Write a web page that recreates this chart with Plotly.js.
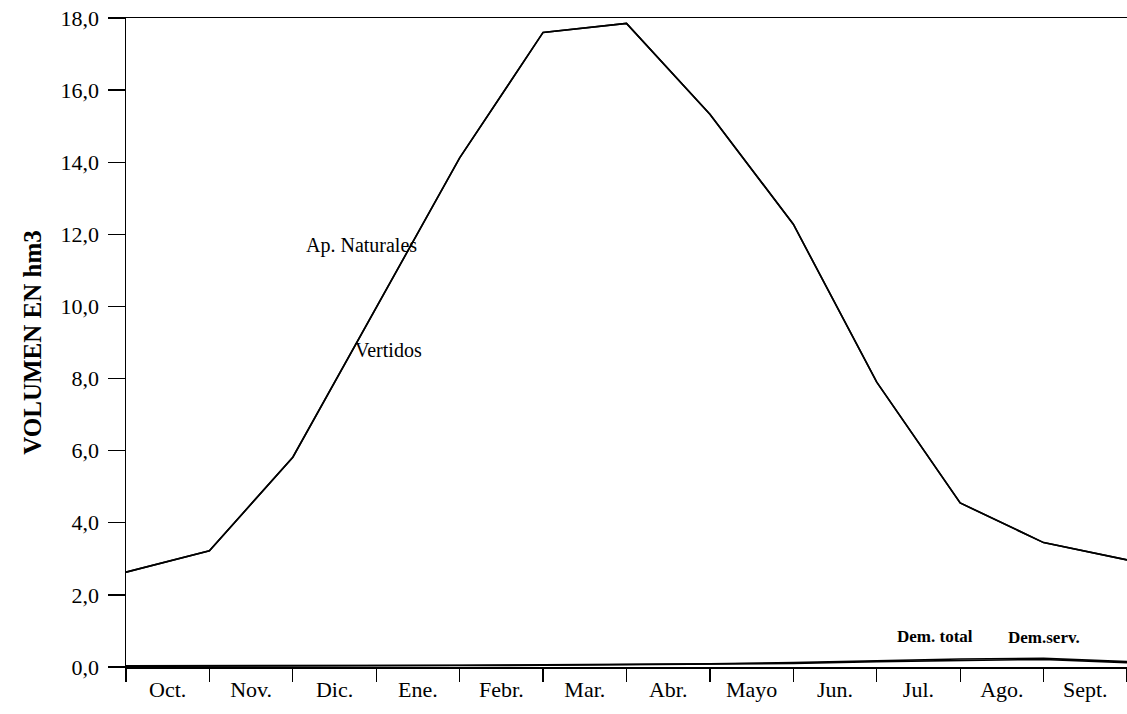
<!DOCTYPE html>
<html>
<head>
<meta charset="utf-8">
<script src="https://cdn.plot.ly/plotly-3.0.1.min.js"></script>
<style>html,body{margin:0;padding:0;background:#fff;}#chart{width:1127px;height:714px;}</style>
</head>
<body>
<div id="chart"></div>
<script>
// Month labels (each month is the interval between two ticks)
const months = ["Oct.", "Nov.", "Dic.", "Ene.", "Febr.", "Mar.", "Abr.", "Mayo", "Jun.", "Jul.", "Ago.", "Sept."];
// Values at month boundaries (start of Oct. ... end of Sept.), hm3
const apNaturales = [2.63, 3.22, 5.82, 9.95, 14.12, 17.6, 17.85, 15.33, 12.28, 7.9, 4.55, 3.45, 2.97];
const vertidos    = [2.63, 3.22, 5.82, 9.95, 14.12, 17.6, 17.85, 15.33, 12.28, 7.9, 4.55, 3.45, 2.97];
const demTotal    = [0.03, 0.03, 0.04, 0.05, 0.05, 0.06, 0.07, 0.09, 0.12, 0.18, 0.22, 0.24, 0.15];
const demServ     = [0.02, 0.02, 0.03, 0.04, 0.04, 0.05, 0.06, 0.07, 0.10, 0.15, 0.19, 0.21, 0.12];
const yTicks = [0, 2, 4, 6, 8, 10, 12, 14, 16, 18];

const boundaries = apNaturales.map((_, i) => i);
const monthCenters = months.map((_, i) => i + 0.5);

const font = "Liberation Serif, Times New Roman, serif";
const lineStyle = {color: "#000", width: 1.6};

const traces = [
  {x: boundaries, y: apNaturales, mode: "lines", line: lineStyle, name: "Ap. Naturales", xaxis: "x", yaxis: "y"},
  {x: boundaries, y: vertidos, mode: "lines", line: lineStyle, name: "Vertidos", xaxis: "x", yaxis: "y"},
  {x: boundaries, y: demTotal, mode: "lines", line: lineStyle, name: "Dem. total", xaxis: "x", yaxis: "y"},
  {x: boundaries, y: demServ, mode: "lines", line: lineStyle, name: "Dem.serv.", xaxis: "x2", yaxis: "y"}
];

const layout = {
  width: 1127, height: 714,
  margin: {l: 126, r: 0, t: 18, b: 47},
  paper_bgcolor: "#fff", plot_bgcolor: "#fff",
  showlegend: false,
  separators: ",.",
  font: {family: font, color: "#000"},
  xaxis: {
    range: [0, 12], fixedrange: true,
    tickvals: monthCenters, ticktext: months,
    ticks: "", showgrid: false, zeroline: false,
    showline: true, mirror: true, linecolor: "#000", linewidth: 1.5,
    tickfont: {family: font, size: 22, color: "#000"},
    ticklabelstandoff: 2
  },
  xaxis2: {
    overlaying: "x", anchor: "y", side: "bottom",
    range: [0, 12], fixedrange: true,
    tickvals: boundaries, showticklabels: false,
    ticks: "outside", ticklen: 14, tickwidth: 1.3, tickcolor: "#000",
    showgrid: false, zeroline: false, showline: false
  },
  yaxis: {
    range: [0, 18], fixedrange: true,
    tickvals: yTicks, tickformat: ".1f",
    ticks: "outside", ticklen: 17, tickwidth: 1.3, tickcolor: "#000",
    showgrid: false, zeroline: false,
    showline: true, linecolor: "#000", linewidth: 1.5,
    tickfont: {family: font, size: 22, color: "#000"},
    ticklabelstandoff: 4,
    title: {text: "<b>VOLUMEN EN hm3</b>", font: {family: font, size: 25, color: "#000"}, standoff: 12}
  },
  annotations: [
    {x: 2.82, y: 11.7, xref: "x", yref: "y", text: "Ap. Naturales", showarrow: false, font: {family: font, size: 20, color: "#000"}},
    {x: 3.15, y: 8.8, xref: "x", yref: "y", text: "Vertidos", showarrow: false, font: {family: font, size: 20, color: "#000"}},
    {x: 9.7, y: 0.85, xref: "x", yref: "y", text: "<b>Dem. total</b>", showarrow: false, font: {family: font, size: 17, color: "#000"}},
    {x: 11.0, y: 0.82, xref: "x", yref: "y", text: "<b>Dem.serv.</b>", showarrow: false, font: {family: font, size: 17, color: "#000"}}
  ]
};

Plotly.newPlot("chart", traces, layout, {displayModeBar: false, staticPlot: true});
</script>
</body>
</html>
